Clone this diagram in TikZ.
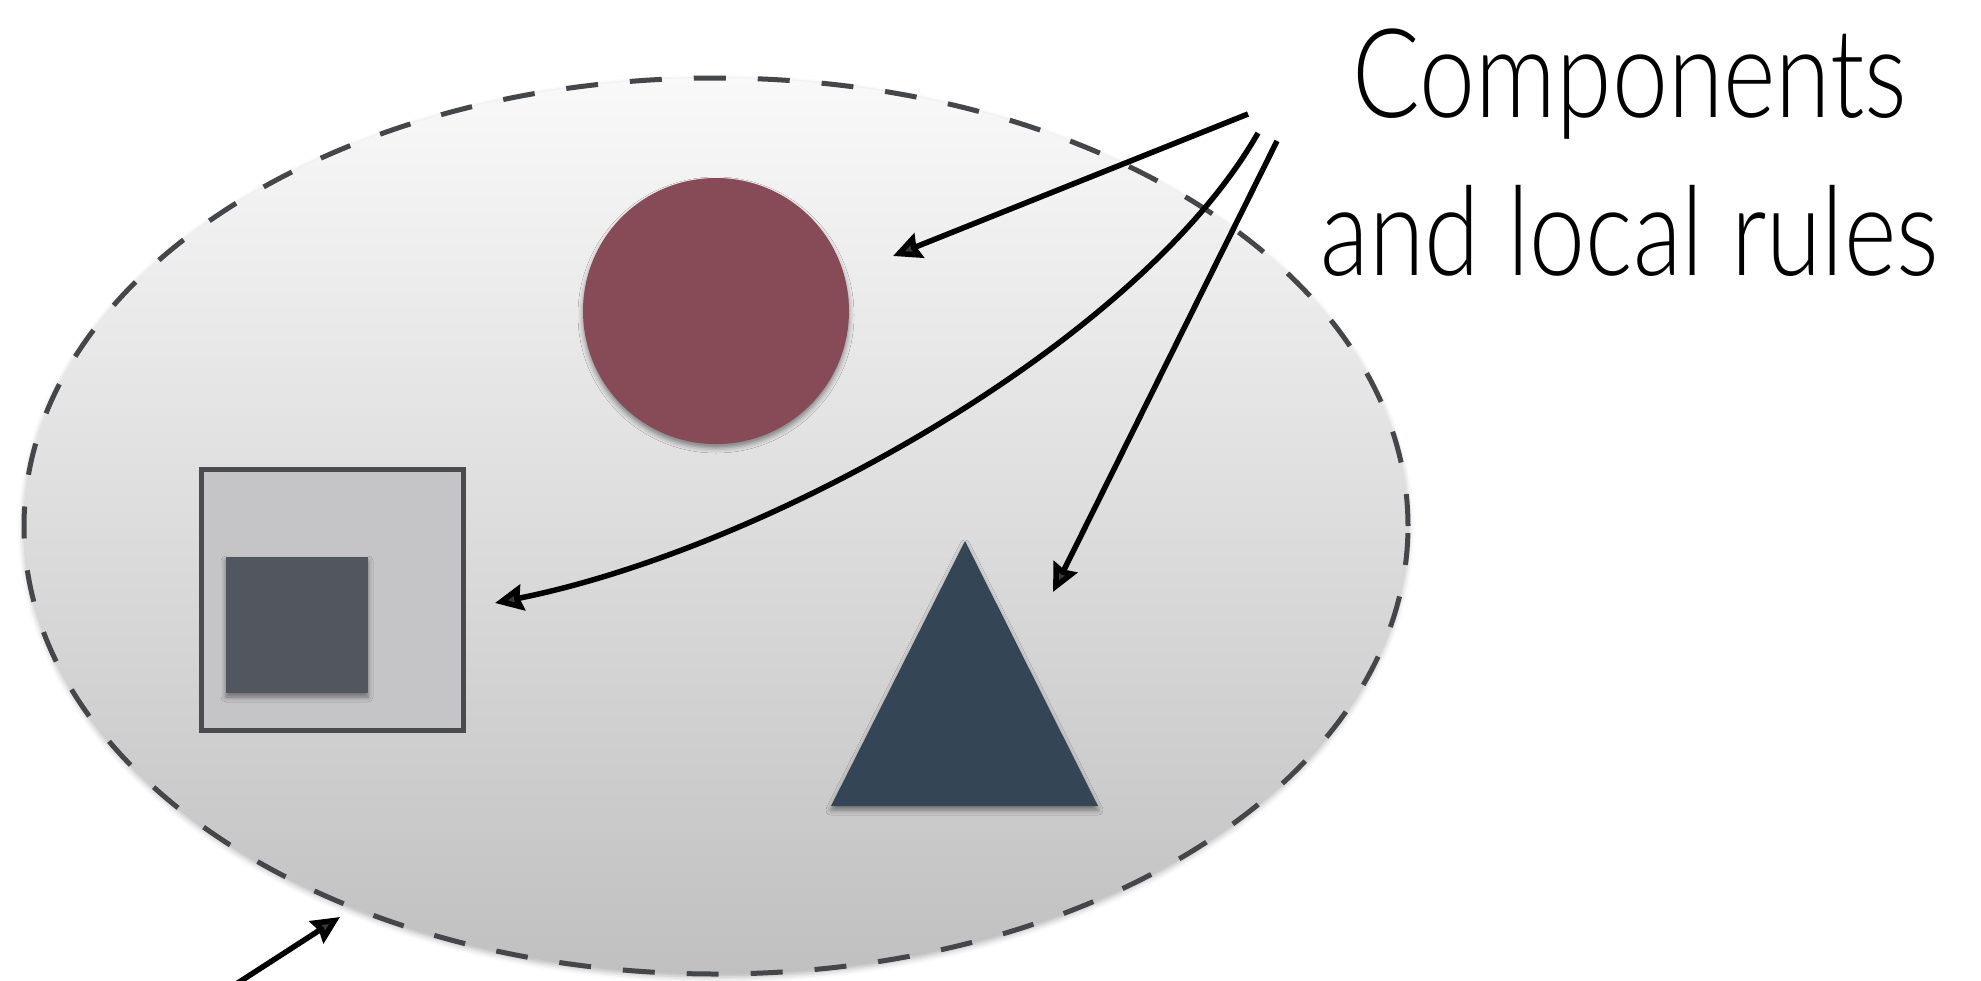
\documentclass[tikz,border=0pt]{standalone}
\usepackage{fontspec}
\newfontfamily\lbl{Lato Light}[FakeStretch=0.81]
\usetikzlibrary{arrows.meta,shapes.geometric,shadows.blur}
\definecolor{dashc}{HTML}{44464A}
\definecolor{topc}{HTML}{F9F9F9}
\definecolor{botc}{HTML}{C0C0C0}
\definecolor{circc}{HTML}{874A57}
\definecolor{tric}{HTML}{344656}
\definecolor{sqc}{HTML}{52575F}
\definecolor{boxc}{HTML}{C5C5C8}
\definecolor{boxline}{HTML}{4A4B4F}
\begin{document}
\begin{tikzpicture}[x=1pt,y=-1pt,
  arr/.style={line width=5.5pt,-{Stealth[length=28pt,width=26pt,inset=3pt]}},
  softshadow/.style={blur shadow={shadow xshift=0pt,shadow yshift=-4pt,shadow blur radius=5pt,shadow opacity=45}},
  labeltext/.style={font=\lbl\fontsize{124}{158}\selectfont,inner sep=0pt,anchor=base}
]
\useasboundingbox (0,0) rectangle (1981,980);
% region
\node[ellipse,minimum width=1384pt,minimum height=896pt,inner sep=0pt,
  top color=topc,bottom color=botc,draw=dashc,line width=5pt,
  dash pattern=on 32pt off 32pt,
  blur shadow={shadow xshift=0pt,shadow yshift=-3pt,shadow blur radius=6pt,shadow opacity=30}] (region) at (716,526) {};
% circle
\node[circle,minimum size=266pt,inner sep=0pt,fill=circc,softshadow] (circ) at (716,311) {};
% box with inner square
\node[rectangle,minimum width=262pt,minimum height=261pt,inner sep=0pt,fill=boxc,draw=boxline,line width=5pt] (box) at (332.5,600) {};
\node[rectangle,minimum width=142pt,minimum height=136pt,inner sep=0pt,fill=sqc,softshadow] (sq) at (297,625) {};
% triangle
\coordinate (ta) at (965,541);
\coordinate (tb) at (1098,806);
\coordinate (tc) at (831,806);
\path[fill=tric,softshadow] (ta) -- (tb) -- (tc) -- cycle;
% labels
\node[labeltext] (comp) at (1630,117) {Components};
\node[labeltext] (rules) at (1630,275) {and local rules};
% arrows
\coordinate (s1) at (1248,114);
\coordinate (t1) at (893,256);
\coordinate (s2) at (1258,133);
\coordinate (t2) at (495,603);
\coordinate (s3) at (1277,141);
\coordinate (t3) at (1053,592);
\coordinate (s4) at (230,988);
\coordinate (t4) at (340,917);
\draw[arr] (s1) -- (t1);
\draw[arr] (s2) .. controls (1140,340) and (770,548) .. (t2);
\draw[arr] (s3) -- (t3);
\draw[arr] (s4) -- (t4);
\end{tikzpicture}
\end{document}
